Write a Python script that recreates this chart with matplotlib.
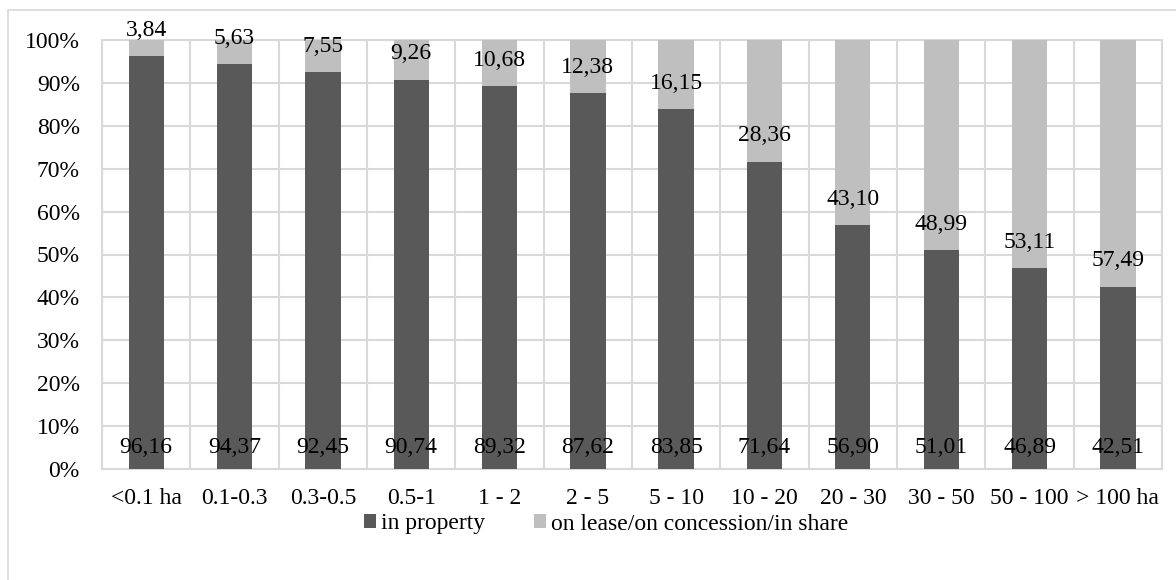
import numpy as np
import matplotlib.pyplot as plt
from matplotlib.patches import Rectangle

# categories and shares (%)
categories = ['<0.1 ha', '0.1-0.3', '0.3-0.5', '0.5-1', '1 - 2', '2 - 5', '5 - 10',
              '10 - 20', '20 - 30', '30 - 50', '50 - 100', '> 100 ha']
in_property = [96.16, 94.37, 92.45, 90.74, 89.32, 87.62, 83.85, 71.64, 56.90, 51.01, 46.89, 42.51]
on_lease = [3.84, 5.63, 7.55, 9.26, 10.68, 12.38, 16.15, 28.36, 43.10, 48.99, 53.11, 57.49]

dark = '#595959'
light = '#bfbfbf'
grid_col = '#d9d9d9'
fs = 17

plt.rcParams['font.family'] = ['Liberation Serif', 'DejaVu Serif']

W, H = 1176, 580
fig = plt.figure(figsize=(W / 100, H / 100), dpi=100)
ax = fig.add_axes([102 / W, 1 - 469 / H, (1162 - 102) / W, (469 - 40) / H])

# outer chart frame (runs off the right and bottom edges)
fig.patches.append(Rectangle((8 / W, -0.05), 1.1, 1.05 - 10.5 / H,
                             transform=fig.transFigure, fill=False,
                             edgecolor=grid_col, linewidth=1.2))

x = np.arange(len(categories))
w = 0.4
ax.bar(x, in_property, w, color=dark, label='in property', zorder=3)
ax.bar(x, on_lease, w, bottom=in_property, color=light,
       label='on lease/on concession/in share', zorder=3)

# value labels
for i in range(len(categories)):
    ax.text(x[i], 5.1, f'{in_property[i]:.2f}'.replace('.', ','), ha='center', va='center',
            fontsize=fs, zorder=4)
    ax.text(x[i], in_property[i] + 6, f'{on_lease[i]:.2f}'.replace('.', ','), ha='center',
            va='center', fontsize=fs, zorder=4, clip_on=False)

ax.set_xlim(-0.5, len(categories) - 0.5)
ax.set_ylim(0, 100)
ax.set_yticks(np.arange(0, 101, 10))
ax.set_yticklabels([f'{v}%' for v in range(0, 101, 10)])
ax.set_xticks(x)
ax.set_xticklabels(categories)
ax.set_xticks(np.arange(-0.5, len(categories), 1), minor=True)
ax.tick_params(axis='both', which='both', length=0, labelsize=fs)
ax.tick_params(axis='x', pad=14)
ax.tick_params(axis='y', pad=16)
ax.grid(True, which='major', axis='y', color=grid_col, linewidth=1.5, zorder=0)
ax.grid(True, which='minor', axis='x', color=grid_col, linewidth=1.5, zorder=0)
for s in ax.spines.values():
    s.set_color(grid_col)
    s.set_linewidth(1.5)

fig.legend(loc='center', bbox_to_anchor=(606 / W, 1 - 524 / H), ncol=2,
           frameon=False, fontsize=fs, handlelength=0.5, handleheight=0.5,
           handletextpad=0.2, columnspacing=2.1, borderpad=0)

fig.savefig('out.png', dpi=100)
